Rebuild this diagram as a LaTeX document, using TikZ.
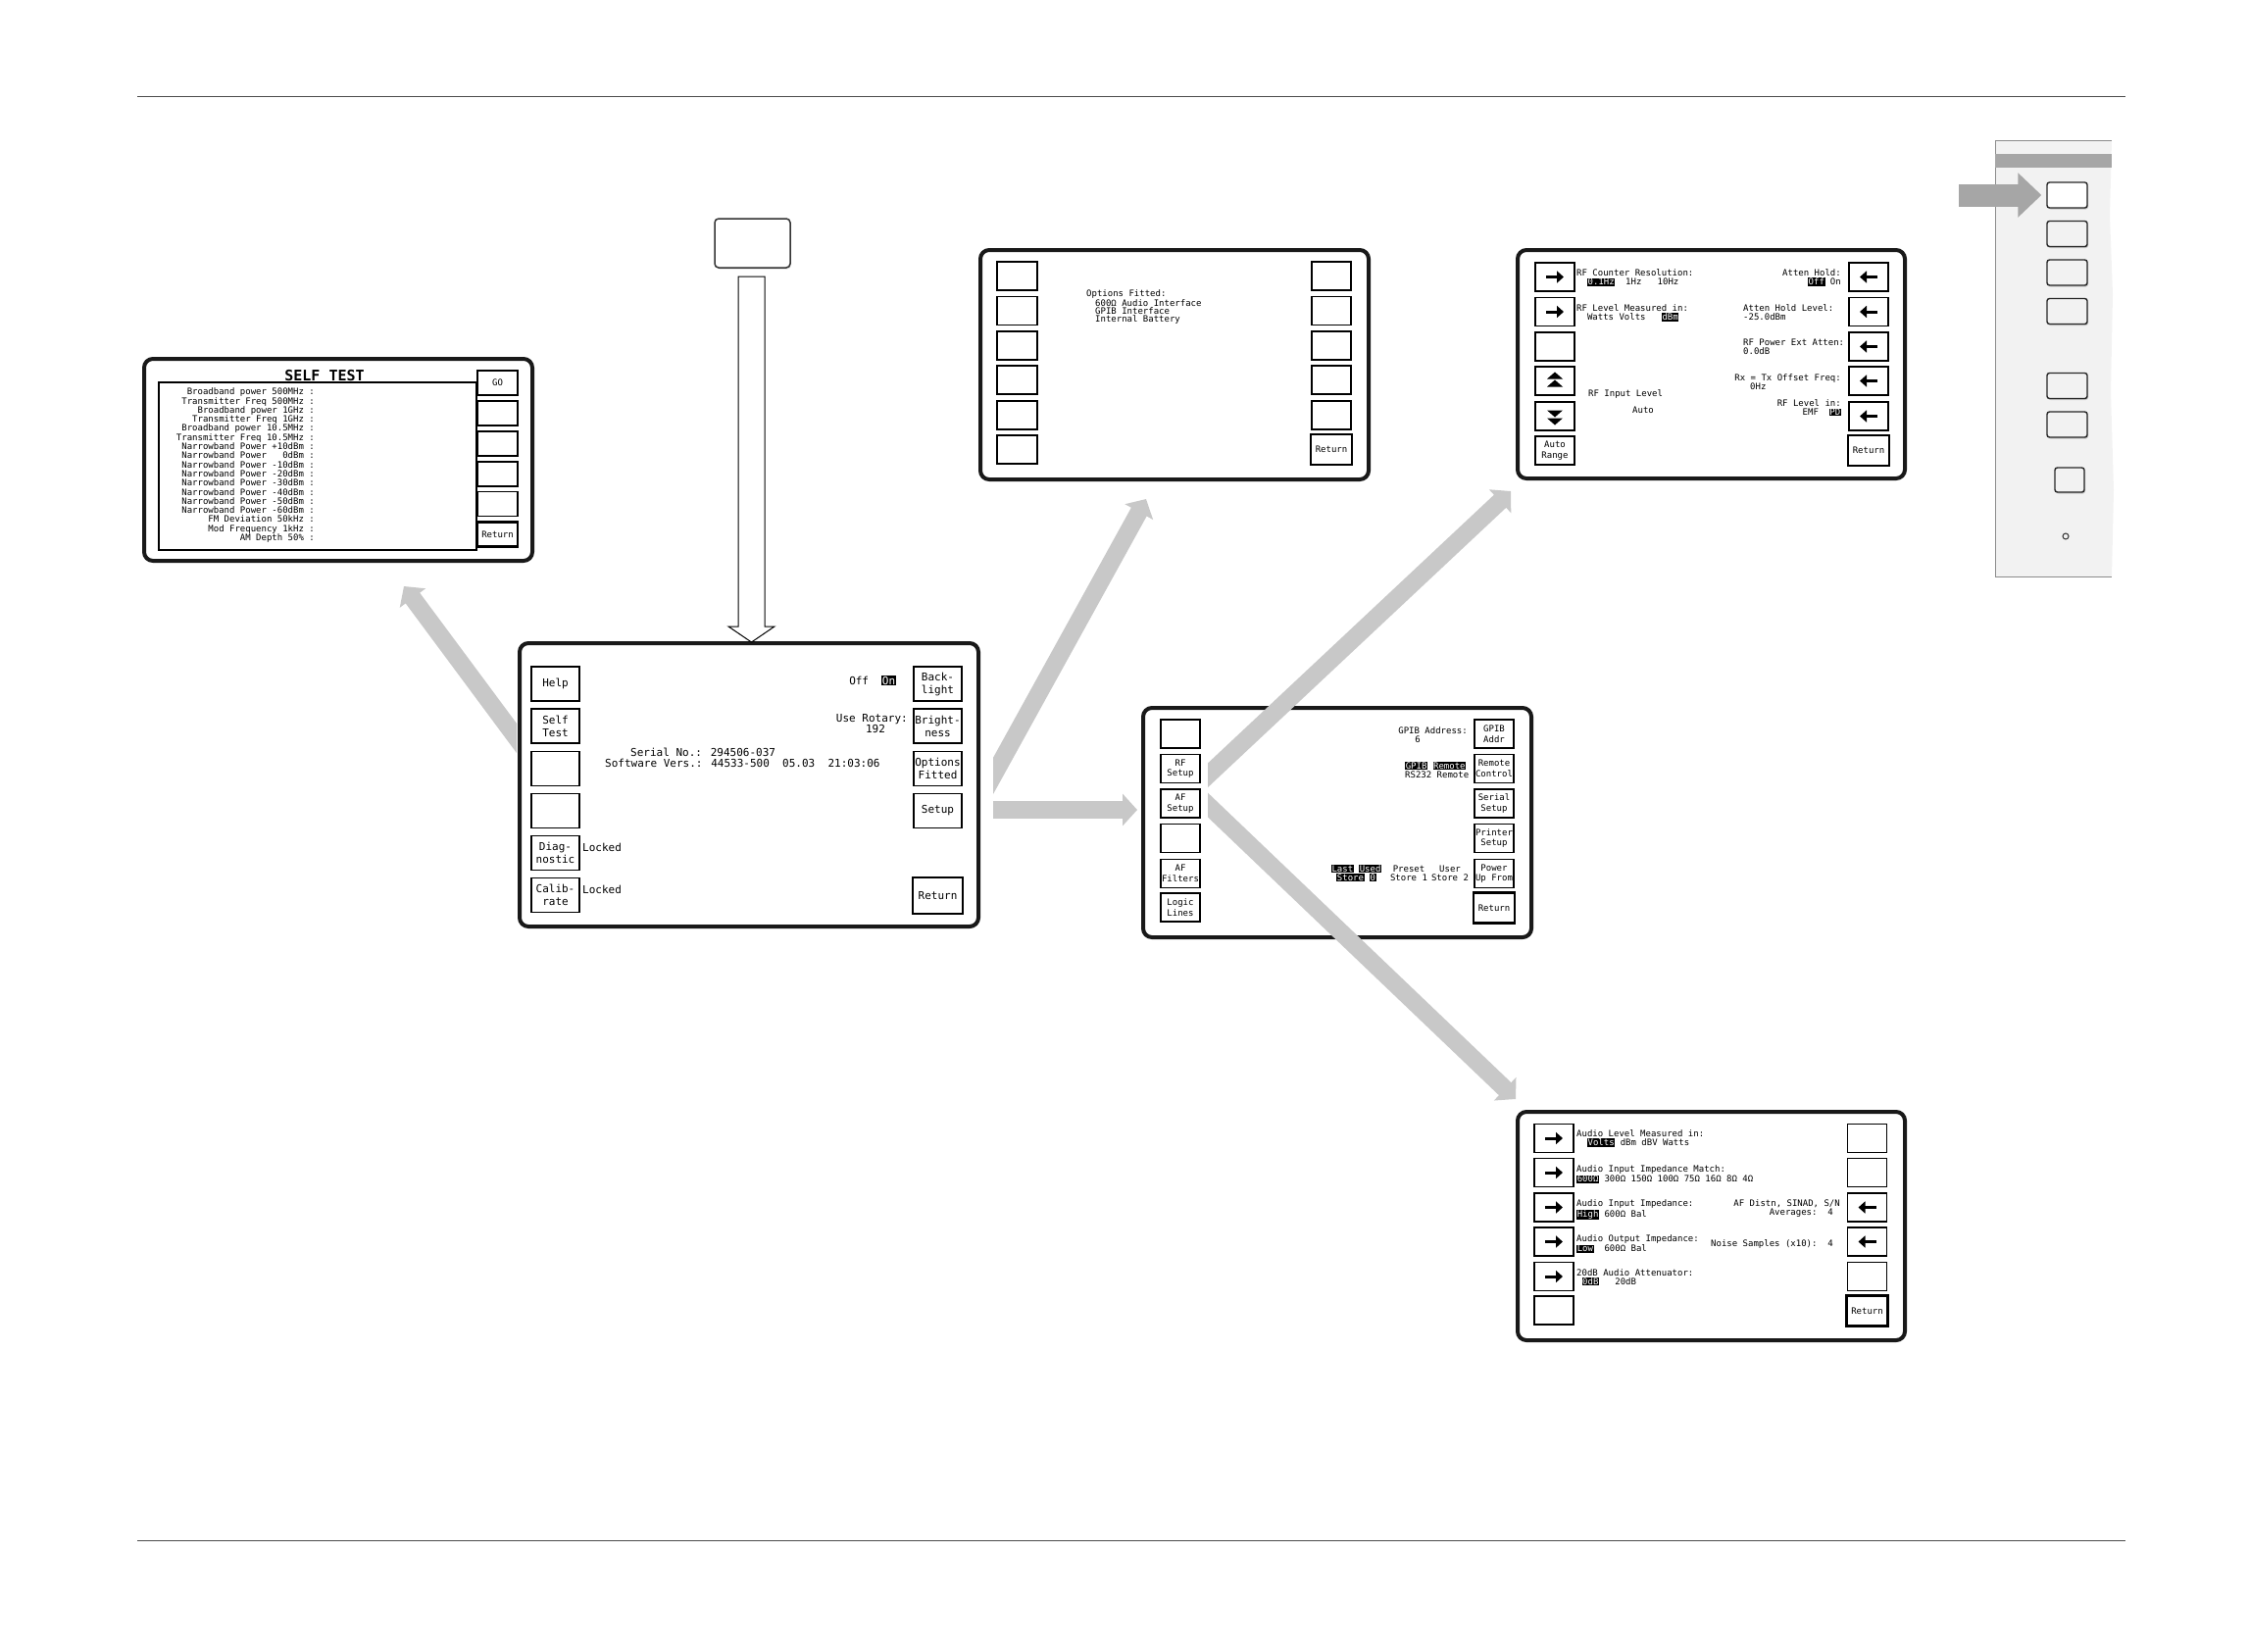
\documentclass[tikz,border=0pt]{standalone}
\usepackage{fontspec}
\usetikzlibrary{arrows.meta,calc,shadows}
\newfontfamily\lcd{DejaVu Sans Mono}
\newcommand{\lcdS}{\lcd\fontsize{9}{9}\selectfont}
\newcommand{\lcdM}{\lcd\fontsize{11}{13}\selectfont}
\newcommand{\inv}[1]{{\setlength{\fboxsep}{0.6pt}\colorbox{black}{\textcolor{white}{#1}}}}
\definecolor{arrowgrey}{HTML}{C8C8C8}
\definecolor{panelgrey}{HTML}{F2F2F2}
\definecolor{bargrey}{HTML}{A6A6A6}
\tikzset{
  screen/.style={draw=black!90, line width=4pt, rounded corners=9pt, fill=white},
  key/.style={draw, line width=1.1pt, minimum width=40pt, minimum height=29pt, inner sep=0pt, align=center, font=\lcd\fontsize{9}{10.5}\selectfont},
  bigkey/.style={key, minimum width=49pt, minimum height=35pt, font=\lcd\fontsize{11}{13}\selectfont},
  ret/.style={line width=2.4pt},
  txt/.style={inner sep=0pt, font=\lcdS},
  bigtxt/.style={inner sep=0pt, font=\lcdM},
  keyarr/.style={line width=3pt, -{Triangle[width=12pt,length=7pt]}},
  garrow/.style={draw=arrowgrey, line width=18pt, -{Triangle[width=32pt,length=15pt]}},
  pkey/.style={draw=black!85, line width=1.4pt, rounded corners=2.5pt, fill=panelgrey, minimum width=41pt, minimum height=26pt, drop shadow={shadow xshift=1pt, shadow yshift=-1.5pt, fill=black!40}},
}
\begin{document}
\begin{tikzpicture}[x=1pt, y=-1pt]
\useasboundingbox (0,0) rectangle (2294,1684);
\draw[black!70, line width=1pt] (140,98) -- (2168,98);
\draw[black!70, line width=1pt] (140,1571) -- (2168,1571);

% self test
\draw[screen] (147,366) rectangle (543,572);
\draw[line width=1.1pt] (162,390) rectangle (486,561);
\node[inner sep=0pt, font=\lcd\bfseries\fontsize{15}{15}\selectfont] (sttitle) at (331,383.5) {SELF TEST};
\node[txt, anchor=north east, align=right, font=\lcd\fontsize{9}{9.3}\selectfont] (stlist) at (321,395.7) {Broadband power 500MHz :\\Transmitter Freq 500MHz :\\Broadband power 1GHz :\\Transmitter Freq 1GHz :\\Broadband power 10.5MHz :\\Transmitter Freq 10.5MHz :\\Narrowband Power +10dBm :\\Narrowband Power\ \ \ 0dBm :\\Narrowband Power -10dBm :\\Narrowband Power -20dBm :\\Narrowband Power -30dBm :\\Narrowband Power -40dBm :\\Narrowband Power -50dBm :\\Narrowband Power -60dBm :\\FM Deviation 50kHz :\\Mod Frequency 1kHz :\\AM Depth 50\% :};
\node[key, minimum width=41pt, minimum height=25pt] (st1) at (507.5,390.5) {GO};
\node[key, minimum width=41pt, minimum height=25pt] (st2) at (507.5,421.5) {};
\node[key, minimum width=41pt, minimum height=25pt] (st3) at (507.5,452.5) {};
\node[key, minimum width=41pt, minimum height=25pt] (st4) at (507.5,483.5) {};
\node[key, minimum width=41pt, minimum height=25pt] (st5) at (507.5,514) {};
\node[key, ret, minimum width=41pt, minimum height=25pt] (st6) at (507.5,545) {Return};

% main screen
\draw[screen] (530,656) rectangle (998,945);
\node[bigkey] (ml1) at (566.5,697.5) {Help};
\node[bigkey] (ml2) at (566.5,740.5) {Self\\Test};
\node[bigkey] (ml3) at (566.5,784) {};
\node[bigkey] (ml4) at (566.5,827) {};
\node[bigkey] (ml5) at (566.5,870) {Diag-\\nostic};
\node[bigkey] (ml6) at (566.5,913) {Calib-\\rate};
\node[bigkey] (mr1) at (956.5,697.5) {Back-\\light};
\node[bigkey] (mr2) at (956.5,740.5) {Bright-\\ness};
\node[bigkey] (mr3) at (956.5,784) {Options\\Fitted};
\node[bigkey] (mr4) at (956.5,827) {Setup};
\node[bigkey, ret, minimum width=51pt, minimum height=37pt] (mr5) at (956.5,913.5) {Return};
\node[bigtxt, anchor=base west] (lock1) at (594,868) {Locked};
\node[bigtxt, anchor=base west] (lock2) at (594,911) {Locked};
\node[bigtxt, anchor=base east] (light) at (914,698) {Off\ \ \inv{On}};
\node[bigtxt, anchor=base east] (rotary) at (926,736) {Use Rotary:};
\node[bigtxt, anchor=base] (rotval) at (893,747.5) {192};
\node[bigtxt, anchor=base west] (serial) at (643,771) {Serial No.: 294506-037};
\node[bigtxt, anchor=base west] (softw) at (617,782) {Software Vers.: 44533-500\ \ 05.03\ \ 21:03:06};

% key from the panel
\node[draw=black!80, line width=1.5pt, rounded corners=4pt, minimum width=77pt, minimum height=50pt, drop shadow={shadow xshift=1pt, shadow yshift=-1.5pt, fill=black!25}, fill=white] (topkey) at (767.5,248) {};
\draw[line width=1pt, fill=white] (753,282) -- (780,282) -- (780,639) -- (790,639) -- (766.5,655) -- (743,639) -- (753,639) -- cycle;

% options fitted
\draw[screen] (1000,255) rectangle (1396,489);
\node[key, minimum width=41pt] (ol1) at (1037.5,281.5) {};
\node[key, minimum width=41pt] (ol2) at (1037.5,317) {};
\node[key, minimum width=41pt] (ol3) at (1037.5,352.5) {};
\node[key, minimum width=41pt] (ol4) at (1037.5,387.5) {};
\node[key, minimum width=41pt] (ol5) at (1037.5,423.5) {};
\node[key, minimum width=41pt] (ol6) at (1037.5,458.5) {};
\node[key] (or1) at (1358,281.5) {};
\node[key] (or2) at (1358,317) {};
\node[key] (or3) at (1358,352.5) {};
\node[key] (or4) at (1358,387.5) {};
\node[key] (or5) at (1358,423.5) {};
\node[key, ret, minimum width=42pt, minimum height=31pt] (or6) at (1358,458.5) {Return};
\node[txt, anchor=base west] (optshead) at (1108,302.5) {Options Fitted:};
\node[txt, anchor=north west, align=left, font=\lcd\fontsize{9}{8}\selectfont] (optslist) at (1117,305.7) {600Ω Audio Interface\\GPIB Interface\\Internal Battery};

% setup
\draw[screen] (1166,722) rectangle (1562,956);
\node[key] (sl1) at (1204,748.5) {};
\node[key] (sl2) at (1204,784) {RF\\Setup};
\node[key] (sl3) at (1204,819.5) {AF\\Setup};
\node[key] (sl4) at (1204,855) {};
\node[key] (sl5) at (1204,891) {AF\\Filters};
\node[key] (sl6) at (1204,925.5) {Logic\\Lines};
\node[key] (sr1) at (1524,748.5) {GPIB\\Addr};
\node[key] (sr2) at (1524,784) {Remote\\Control};
\node[key] (sr3) at (1524,819.5) {Serial\\Setup};
\node[key] (sr4) at (1524,855) {Printer\\Setup};
\node[key] (sr5) at (1524,891) {Power\\Up From};
\node[key, ret, minimum width=42pt, minimum height=31pt] (sr6) at (1524,926) {Return};
\node[txt, anchor=base east] (gpibaddr) at (1497,748.3) {GPIB Address:};
\node[txt, anchor=base] (gpibval) at (1446,757.3) {6};
\node[txt, anchor=north west, align=left] (remote) at (1433,776.7) {\inv{GPIB} \inv{Remote}\\RS232 Remote};
\node[txt, align=center] (lastused) at (1383.5,890.5) {\inv{Last} \inv{Used}\\\inv{Store} \inv{0}};
\node[txt, align=center] (preset) at (1437,890.5) {Preset\\Store 1};
\node[txt, align=center] (userstore) at (1479,890.5) {User\\Store 2};

% rf setup
\draw[screen] (1548,255) rectangle (1943,488);
\node[key] (rl1) at (1586,282.5) {};
\node[key] (rl2) at (1586,318) {};
\node[key] (rl3) at (1586,353.5) {};
\node[key] (rl4) at (1586,388.5) {};
\node[key] (rl5) at (1586,424.5) {};
\node[key] (rl6) at (1586,459.5) {Auto\\Range};
\node[key] (rr1) at (1906,282.5) {};
\node[key] (rr2) at (1906,318) {};
\node[key] (rr3) at (1906,353.5) {};
\node[key] (rr4) at (1906,388.5) {};
\node[key] (rr5) at (1906,424.5) {};
\node[key, ret, minimum width=42pt, minimum height=31pt] (rr6) at (1906,459.5) {Return};
\draw[keyarr] ($(rl1)+(-9,0)$) -- ($(rl1)+(9,0)$);
\draw[keyarr] ($(rl2)+(-9,0)$) -- ($(rl2)+(9,0)$);
\draw[keyarr] ($(rr1)+(9,0)$) -- ($(rr1)+(-9,0)$);
\draw[keyarr] ($(rr2)+(9,0)$) -- ($(rr2)+(-9,0)$);
\draw[keyarr] ($(rr3)+(9,0)$) -- ($(rr3)+(-9,0)$);
\draw[keyarr] ($(rr4)+(9,0)$) -- ($(rr4)+(-9,0)$);
\draw[keyarr] ($(rr5)+(9,0)$) -- ($(rr5)+(-9,0)$);
\fill ($(rl4)+(0,-9)$) -- ($(rl4)+(8,-2)$) -- ($(rl4)+(-8,-2)$) -- cycle;
\fill ($(rl4)+(0,-1)$) -- ($(rl4)+(8,6)$) -- ($(rl4)+(-8,6)$) -- cycle;
\fill ($(rl5)+(0,9)$) -- ($(rl5)+(8,2)$) -- ($(rl5)+(-8,2)$) -- cycle;
\fill ($(rl5)+(0,1)$) -- ($(rl5)+(8,-6)$) -- ($(rl5)+(-8,-6)$) -- cycle;
\node[txt, anchor=north west, align=left] (counter) at (1608,274.7) {RF Counter Resolution:\\\hphantom{00}\inv{0.1Hz}\ \ 1Hz\ \ \ 10Hz};
\node[txt, anchor=north west, align=left] (measured) at (1608,310.7) {RF Level Measured in:\\\hphantom{00}Watts\ Volts\ \ \ \inv{dBm}};
\node[txt, anchor=north east, align=right] (attenhold) at (1878,274.7) {Atten Hold:\\\inv{Off}\ On};
\node[txt, anchor=north west, align=left] (holdlevel) at (1778,310.7) {Atten Hold Level:\\-25.0dBm};
\node[txt, anchor=north west, align=left] (extatten) at (1778,345.7) {RF Power Ext Atten:\\0.0dB};
\node[txt, anchor=base east] (offset) at (1878,388.3) {Rx = Tx Offset Freq:};
\node[txt, anchor=base west] (offsetval) at (1785,397.3) {0Hz};
\node[txt, anchor=base west] (inlevel) at (1620,404.3) {RF Input Level};
\node[txt, anchor=base] (inauto) at (1676,421.3) {Auto};
\node[txt, anchor=north east, align=right] (levelin) at (1878,407.7) {RF Level in:\\EMF\ \ \inv{PD}};

% af setup
\draw[screen] (1548,1134) rectangle (1943,1367);
\node[key] (al1) at (1585,1161) {};
\node[key] (al2) at (1585,1196) {};
\node[key] (al3) at (1585,1231.5) {};
\node[key] (al4) at (1585,1266.5) {};
\node[key] (al5) at (1585,1302) {};
\node[key] (al6) at (1585,1336.5) {};
\node[key] (ar1) at (1904.5,1161) {};
\node[key] (ar2) at (1904.5,1196) {};
\node[key] (ar3) at (1904.5,1231.5) {};
\node[key] (ar4) at (1904.5,1266.5) {};
\node[key] (ar5) at (1904.5,1302) {};
\node[key, ret, minimum width=42pt, minimum height=31pt] (ar6) at (1904.5,1337) {Return};
\draw[keyarr] ($(al1)+(-9,0)$) -- ($(al1)+(9,0)$);
\draw[keyarr] ($(al2)+(-9,0)$) -- ($(al2)+(9,0)$);
\draw[keyarr] ($(al3)+(-9,0)$) -- ($(al3)+(9,0)$);
\draw[keyarr] ($(al4)+(-9,0)$) -- ($(al4)+(9,0)$);
\draw[keyarr] ($(al5)+(-9,0)$) -- ($(al5)+(9,0)$);
\draw[keyarr] ($(ar3)+(9,0)$) -- ($(ar3)+(-9,0)$);
\draw[keyarr] ($(ar4)+(9,0)$) -- ($(ar4)+(-9,0)$);
\node[txt, anchor=north west, align=left] (aflevel) at (1608,1152.7) {Audio Level Measured in:\\\hphantom{00}\inv{Volts} dBm dBV Watts};
\node[txt, anchor=north west, align=left] (afmatch) at (1608,1188.7) {Audio Input Impedance Match:\\\inv{600Ω} 300Ω 150Ω 100Ω 75Ω 16Ω 8Ω 4Ω};
\node[txt, anchor=north west, align=left] (afinput) at (1608,1223.7) {Audio Input Impedance:\\\inv{High} 600Ω Bal};
\node[txt, anchor=base east] (distn) at (1877,1230.3) {AF Distn, SINAD, S/N};
\node[txt, anchor=base east] (averages) at (1870,1239.3) {Averages:\ \ 4};
\node[txt, anchor=north west, align=left] (afoutput) at (1608,1259.7) {Audio Output Impedance:\\\inv{Low}\ \ 600Ω Bal};
\node[txt, anchor=base east] (noise) at (1870,1271.3) {Noise Samples (x10):\ \ 4};
\node[txt, anchor=north west, align=left] (atten20) at (1608,1294.7) {20dB Audio Attenuator:\\\hphantom{0}\inv{0dB}\ \ \ 20dB};

% front panel
\fill[panelgrey] (2035,143) -- (2154,143) -- (2152,220) -- (2155,300) -- (2153,400) -- (2156,500) -- (2154,588) -- (2035,588) -- cycle;
\draw[black!45, line width=0.8pt] (2154,143) -- (2035,143) -- (2035,588) -- (2154,588);
\fill[bargrey] (2035,157) rectangle (2154,171);
\node[pkey, fill=white] (p1) at (2108.5,199) {};
\node[pkey] (p2) at (2108.5,238.5) {};
\node[pkey] (p3) at (2108.5,278) {};
\node[pkey] (p4) at (2108.5,317.5) {};
\node[pkey] (p5) at (2108.5,393.5) {};
\node[pkey] (p6) at (2108.5,433) {};
\node[pkey, minimum width=30pt, minimum height=25pt] (p7) at (2111,489.5) {};
\node[circle, draw=black!80, line width=1pt, minimum size=6pt, inner sep=0pt] (p8) at (2107,547) {};
\coordinate (pa) at (1998,199);
\draw[draw=bargrey, line width=23pt, -{Triangle[width=44pt,length=24pt]}, shorten >=5pt] (pa) -- (p1.west);

% menu arrows
\coordinate (stfrom) at (540,770.5);
\coordinate (stto) at (412,598);
\coordinate (optfrom) at (1000,815);
\coordinate (optto) at (1169,509);
\coordinate (setfrom) at (1000,826);
\coordinate (setto) at (1160,826);
\coordinate (rffrom) at (1220,802);
\coordinate (rfto) at (1541,501);
\coordinate (affrom) at (1220,809.6);
\coordinate (afto) at (1546,1121);
\begin{scope}
\clip (0,0) rectangle (527,1684);
\draw[garrow] (stfrom) -- (stto);
\end{scope}
\begin{scope}
\clip (1013,0) rectangle (1200,1684);
\draw[garrow] (optfrom) -- (optto);
\draw[garrow] (setfrom) -- (setto);
\end{scope}
\begin{scope}
\clip (1232,0) rectangle (1600,1684);
\draw[garrow] (rffrom) -- (rfto);
\draw[garrow] (affrom) -- (afto);
\end{scope}
\end{tikzpicture}
\end{document}
